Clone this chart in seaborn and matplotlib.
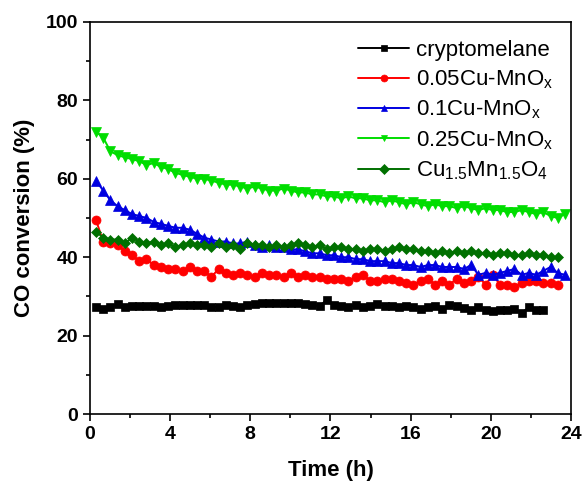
"""CO conversion vs time on stream for Cu-MnOx catalysts."""

import matplotlib

matplotlib.use("Agg")
import matplotlib.pyplot as plt
import numpy as np
import pandas as pd
import seaborn as sns
from matplotlib.ticker import MultipleLocator

# time grid of the measurements (h), one sample every ~0.36 h
STEP = 0.36
T0 = 0.3

cryptomelane = [27.3, 26.8, 27.3, 28.0, 27.3, 27.5, 27.5, 27.5, 27.5, 27.3, 27.5, 27.7, 27.7, 27.7,
                27.8, 27.8, 27.2, 27.3, 27.7, 27.5, 27.3, 27.8, 28.0, 28.2, 28.3, 28.2, 28.3, 28.3,
                28.2, 28.0, 27.8, 27.5, 29.2, 27.8, 27.5, 27.3, 27.8, 27.2, 27.5, 28.0, 27.5, 27.5,
                27.3, 27.5, 27.2, 26.8, 27.3, 27.5, 26.8, 27.8, 27.5, 27.0, 26.5, 27.3, 26.5, 26.3,
                26.5, 26.5, 26.7, 25.8, 27.2, 26.5, 26.5]
cu005 = [49.5, 44.0, 43.5, 43.0, 41.5, 40.5, 39.0, 39.5, 38.0, 37.5, 37.0, 37.0, 36.5, 37.5,
         36.5, 36.5, 35.0, 37.0, 36.0, 35.5, 36.0, 35.5, 35.0, 36.0, 35.5, 35.5, 35.0, 36.0,
         35.0, 35.5, 35.0, 35.0, 34.5, 34.5, 34.5, 34.0, 35.0, 35.5, 34.0, 34.0, 34.5, 34.5,
         34.0, 33.5, 33.0, 34.0, 34.5, 33.0, 34.0, 33.0, 34.5, 33.5, 34.0, 35.0, 33.0, 35.5,
         33.0, 33.0, 32.5, 33.5, 34.0, 34.0, 33.5, 33.5, 33.0]
cu01 = [59.5, 57.0, 54.5, 53.0, 52.0, 51.0, 50.5, 50.0, 49.0, 48.5, 48.0, 47.5, 47.5, 47.0,
        46.0, 45.0, 44.5, 44.0, 44.0, 43.5, 43.5, 44.0, 43.0, 42.5, 43.0, 42.5, 42.5, 42.0,
        42.0, 41.5, 41.0, 41.0, 40.5, 40.5, 40.0, 40.0, 39.5, 39.5, 39.0, 39.0, 39.0, 38.5,
        38.5, 38.0, 38.0, 37.5, 38.0, 38.0, 37.5, 37.5, 37.5, 37.0, 38.0, 35.5, 36.0, 35.5,
        36.0, 36.5, 37.0, 35.5, 36.0, 35.5, 36.5, 37.5, 36.0, 35.5]
cu025 = [72.0, 70.5, 67.0, 66.0, 65.5, 65.0, 64.5, 63.5, 64.0, 63.0, 62.5, 61.5, 61.0, 60.5,
         60.0, 60.0, 59.5, 59.0, 58.5, 58.5, 58.0, 57.5, 58.0, 57.5, 57.0, 57.0, 57.5, 57.0,
         56.5, 56.5, 56.0, 56.0, 55.5, 55.5, 55.0, 55.5, 55.0, 55.0, 54.5, 54.5, 54.0, 54.5,
         54.0, 53.5, 54.0, 53.5, 53.0, 53.5, 53.0, 53.0, 52.5, 53.0, 52.5, 52.0, 52.5, 52.0,
         52.0, 51.5, 51.5, 52.0, 51.5, 51.0, 51.5, 50.5, 50.0, 51.0]
spinel = [46.5, 45.0, 44.5, 44.5, 43.5, 45.0, 44.0, 43.5, 44.0, 43.0, 43.5, 42.5, 43.0, 43.5,
          43.0, 43.0, 42.5, 43.5, 42.5, 43.0, 42.0, 43.5, 43.0, 43.0, 42.5, 43.0, 42.5, 43.0,
          43.5, 43.0, 42.5, 43.0, 42.0, 42.5, 42.5, 42.0, 42.0, 41.5, 42.0, 42.0, 41.5, 42.0,
          42.5, 42.0, 42.0, 41.5, 41.5, 41.0, 41.5, 41.0, 41.5, 41.0, 41.5, 41.0, 41.0, 40.5,
          41.0, 41.0, 40.5, 40.5, 41.0, 40.5, 40.5, 40.0, 40.0]

labels = [
    "cryptomelane",
    r"0.05Cu-MnO$_\mathregular{x}$",
    r"0.1Cu-MnO$_\mathregular{x}$",
    r"0.25Cu-MnO$_\mathregular{x}$",
    r"Cu$_\mathregular{1.5}$Mn$_\mathregular{1.5}$O$_\mathregular{4}$",
]
series = [cryptomelane, cu005, cu01, cu025, spinel]
colors = ["#000000", "#ff0000", "#0000e0", "#00dd00", "#007000"]
markers = ["s", "o", "^", "v", "D"]
marker_sizes = [5.5, 6.5, 6.5, 6.5, 5.5]

frames = []
for label, values in zip(labels, series):
    t = T0 + STEP * np.arange(len(values))
    frames.append(pd.DataFrame({"time": t, "conv": values, "sample": label}))
data = pd.concat(frames, ignore_index=True)

sns.set_style("ticks")
plt.rcParams["font.family"] = ["Liberation Sans", "DejaVu Sans"]
plt.rcParams["mathtext.fontset"] = "custom"
plt.rcParams["mathtext.rm"] = "Liberation Sans"
plt.rcParams["mathtext.it"] = "Liberation Sans"
for key in ["text.color", "axes.labelcolor", "xtick.color", "ytick.color", "axes.edgecolor"]:
    plt.rcParams[key] = "black"

fig = plt.figure(figsize=(5.88, 4.86), dpi=100)
ax = fig.add_axes([0.153, 0.148, 0.818, 0.807])

for label, color, marker, ms in zip(labels, colors, markers, marker_sizes):
    sns.lineplot(
        data=data[data["sample"] == label],
        x="time",
        y="conv",
        color=color,
        marker=marker,
        markersize=ms,
        markeredgewidth=0.5,
        markeredgecolor=color,
        linewidth=1.4,
        label=label,
        ax=ax,
    )

ax.set_xlim(0, 24)
ax.set_ylim(0, 100)
ax.xaxis.set_major_locator(MultipleLocator(4))
ax.xaxis.set_minor_locator(MultipleLocator(2))
ax.yaxis.set_major_locator(MultipleLocator(20))
ax.yaxis.set_minor_locator(MultipleLocator(10))
ax.tick_params(which="major", direction="out", length=5, width=1.2, labelsize=14)
ax.tick_params(which="minor", direction="out", length=3, width=1.2)
for tick in ax.get_xticklabels() + ax.get_yticklabels():
    tick.set_fontweight("bold")
for spine in ax.spines.values():
    spine.set_visible(True)
    spine.set_linewidth(1.2)
    spine.set_color("black")

ax.set_xlabel("Time (h)", fontsize=16, fontweight="bold", labelpad=12)
ax.set_ylabel("CO conversion (%)", fontsize=16, fontweight="bold", labelpad=8)

leg = ax.legend(
    loc="upper right",
    frameon=False,
    fontsize=16,
    handlelength=2.3,
    labelspacing=0.35,
    borderaxespad=0.4,
    handletextpad=0.3,
)
for h in leg.legend_handles:
    h.set_markersize(5)

fig.savefig("out.png", dpi=100)
plt.close(fig)
